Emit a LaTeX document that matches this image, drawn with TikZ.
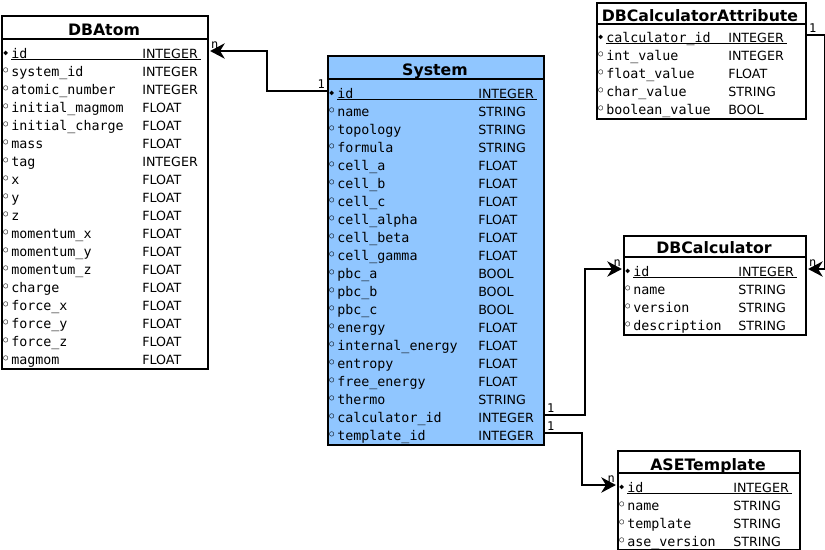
\documentclass[tikz,border=0pt]{standalone}
\usepackage{fontspec}
\setmainfont{DejaVu Sans}
\setmonofont{DejaVu Sans Mono}
\usetikzlibrary{
  arrows.meta,
  calc
}
\definecolor{systemcolor}{RGB}{144, 198, 255}
\definecolor{bordercolor}{RGB}{0, 0, 0}
\definecolor{textcolor}{RGB}{0, 0, 0}
\def\pxu{0.75pt}
\newcommand{\pkey}{\makebox[6pt][l]{\raisebox{2.2pt}{\fontsize{6}{6}\selectfont ◆}}}
\newcommand{\fkey}{\makebox[6pt][l]{\raisebox{2.8pt}{\fontsize{6}{6}\selectfont ○}}}
\tikzset{
tablebox/.style={
  draw=bordercolor,
  line width=1.5pt,
  fill=white,
  anchor=north west,
  inner sep=0pt
},
tabletitle/.style={
  font=\bfseries\fontsize{11.8}{14}\selectfont,
  text=textcolor,
  anchor=base
},
fieldname/.style={
  font=\ttfamily\fontsize{10}{12}\selectfont,
  text=textcolor,
  anchor=base west,
  inner sep=0pt,
  text height=12pt,
  text depth=1.5pt
},
fieldtype/.style={
  font=\fontsize{9.5}{12}\selectfont,
  text=textcolor,
  anchor=base west,
  inner sep=0pt
},
headline/.style={
  draw=bordercolor,
  line width=1.5pt
},
keyline/.style={
  draw=bordercolor,
  line width=0.6pt
},
relation/.style={
  -{Stealth[length=11pt,width=11.5pt,inset=3.5pt]},
  line width=1.5pt,
  draw=bordercolor,
  shorten >=0.8pt
},
cardinality/.style={
  font=\ttfamily\fontsize{9}{10}\selectfont,
  text=textcolor,
  inner sep=0.8pt
}
}

\begin{document}
\begin{tikzpicture}[x=0.75pt, y=-0.75pt]
  \useasboundingbox (0,0) rectangle (825,550);

  % DBAtom
  \node[tablebox, minimum width=206*\pxu, minimum height=353*\pxu] (atom) at (1,15) {};
  \draw[headline] (atom.west |- 0,39) -- (atom.east |- 0,39);
  \node[tabletitle] (atom-title) at (104,35) {DBAtom};
  \foreach \f/\t [count=\i from 0] in {id/INTEGER, system\_id/INTEGER, atomic\_number/INTEGER,
      initial\_magmom/FLOAT, initial\_charge/FLOAT, mass/FLOAT, tag/INTEGER, x/FLOAT, y/FLOAT,
      z/FLOAT, momentum\_x/FLOAT, momentum\_y/FLOAT, momentum\_z/FLOAT, charge/FLOAT,
      force\_x/FLOAT, force\_y/FLOAT, force\_z/FLOAT, magmom/FLOAT} {
    \node[fieldname] (atom-\i) at (3,{58+18*\i}) {\ifnum\i=0 \pkey\else\fkey\fi\f};
    \node[fieldtype] (atom-t\i) at (142,{58+18*\i}) {\t};
  }
  \draw[keyline] ([xshift=6pt,yshift=-1.2pt]atom-0.base west) -- ([xshift=2.5pt,yshift=-1.2pt]atom-t0.base east);

  % System
  \node[tablebox, fill=systemcolor, minimum width=216*\pxu, minimum height=389*\pxu] (sys) at (327,55) {};
  \draw[headline] (sys.west |- 0,79) -- (sys.east |- 0,79);
  \node[tabletitle] (sys-title) at (435,75) {System};
  \foreach \f/\t [count=\i from 0] in {id/INTEGER, name/STRING, topology/STRING, formula/STRING,
      cell\_a/FLOAT, cell\_b/FLOAT, cell\_c/FLOAT, cell\_alpha/FLOAT, cell\_beta/FLOAT,
      cell\_gamma/FLOAT, pbc\_a/BOOL, pbc\_b/BOOL, pbc\_c/BOOL, energy/FLOAT,
      internal\_energy/FLOAT, entropy/FLOAT, free\_energy/FLOAT, thermo/STRING,
      calculator\_id/INTEGER, template\_id/INTEGER} {
    \node[fieldname] (sys-\i) at (329,{98+18*\i}) {\ifnum\i=0 \pkey\else\fkey\fi\f};
    \node[fieldtype] (sys-t\i) at (478,{98+18*\i}) {\t};
  }
  \draw[keyline] ([xshift=6pt,yshift=-1.2pt]sys-0.base west) -- ([xshift=2.5pt,yshift=-1.2pt]sys-t0.base east);

  % DBCalculatorAttribute
  \node[tablebox, minimum width=209*\pxu, minimum height=116*\pxu] (attr) at (596,2) {};
  \draw[headline] (attr.west |- 0,24) -- (attr.east |- 0,24);
  \node[tabletitle] (attr-title) at (700,21) {DBCalculatorAttribute};
  \foreach \f/\t [count=\i from 0] in {calculator\_id/INTEGER, int\_value/INTEGER,
      float\_value/FLOAT, char\_value/STRING, boolean\_value/BOOL} {
    \node[fieldname] (attr-\i) at (598,{42+18*\i}) {\ifnum\i=0 \pkey\else\fkey\fi\f};
    \node[fieldtype] (attr-t\i) at (728,{42+18*\i}) {\t};
  }
  \draw[keyline] ([xshift=6pt,yshift=-1.2pt]attr-0.base west) -- ([xshift=2.5pt,yshift=-1.2pt]attr-t0.base east);

  % DBCalculator
  \node[tablebox, minimum width=182*\pxu, minimum height=99*\pxu] (calc) at (623,235) {};
  \draw[headline] (calc.west |- 0,257) -- (calc.east |- 0,257);
  \node[tabletitle] (calc-title) at (714,253) {DBCalculator};
  \foreach \f/\t [count=\i from 0] in {id/INTEGER, name/STRING, version/STRING, description/STRING} {
    \node[fieldname] (calc-\i) at (625,{276+18*\i}) {\ifnum\i=0 \pkey\else\fkey\fi\f};
    \node[fieldtype] (calc-t\i) at (738,{276+18*\i}) {\t};
  }
  \draw[keyline] ([xshift=6pt,yshift=-1.2pt]calc-0.base west) -- ([xshift=2.5pt,yshift=-1.2pt]calc-t0.base east);

  % ASETemplate
  \node[tablebox, minimum width=182*\pxu, minimum height=99*\pxu] (ase) at (617,450) {};
  \draw[headline] (ase.west |- 0,473) -- (ase.east |- 0,473);
  \node[tabletitle] (ase-title) at (708,470) {ASETemplate};
  \foreach \f/\t [count=\i from 0] in {id/INTEGER, name/STRING, template/STRING, ase\_version/STRING} {
    \node[fieldname] (ase-\i) at (619,{492+18*\i}) {\ifnum\i=0 \pkey\else\fkey\fi\f};
    \node[fieldtype] (ase-t\i) at (733,{492+18*\i}) {\t};
  }
  \draw[keyline] ([xshift=6pt,yshift=-1.2pt]ase-0.base west) -- ([xshift=2.5pt,yshift=-1.2pt]ase-t0.base east);

  % relations
  \draw[relation] (sys.west |- sys-0) node[cardinality, above left] (c1-one) {1}
    -- ++(-60,0) |- (atom.east |- atom-0) node[cardinality, above right] (c1-n) {n};
  \draw[relation] (sys.east |- sys-18) node[cardinality, above right] (c2-one) {1}
    -- ++(40,0) |- (calc.west |- calc-0) node[cardinality, above left] (c2-n) {n};
  \draw[relation] (sys.east |- sys-19) node[cardinality, above right] (c3-one) {1}
    -- ++(37,0) |- (ase.west |- ase-0) node[cardinality, above left] (c3-n) {n};
  \draw[relation] (attr.east |- attr-0) node[cardinality, above right] (c4-one) {1}
    -- ++(17.5,0) |- (calc.east |- calc-0) node[cardinality, above right] (c4-n) {n};
\end{tikzpicture}
\end{document}
